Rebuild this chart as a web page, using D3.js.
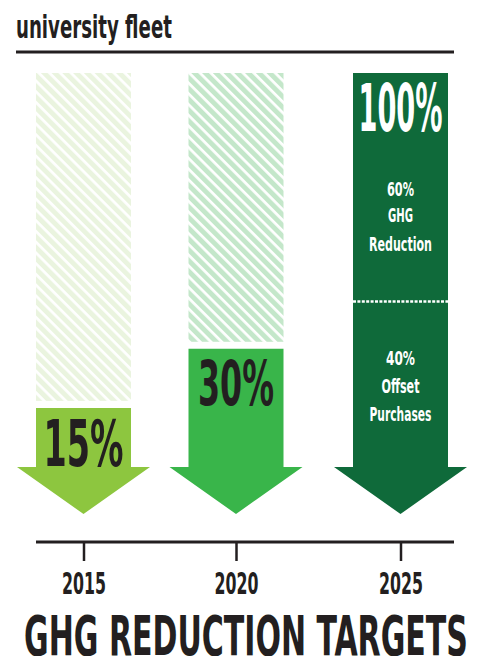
<!DOCTYPE html>
<html><head><meta charset="utf-8">
<script src="https://cdn.jsdelivr.net/npm/d3@7"></script>
<style>html,body{margin:0;padding:0;background:#fff}svg{display:block}</style>
</head><body>
<script>
// ---- data ----
const years = ["2015", "2020", "2025"];
const targets = [15, 30, 100];
const targetLabels = ["15%", "30%", "100%"];
const splitLabels = [["60%", "GHG", "Reduction"], ["40%", "Offset", "Purchases"]];
const splitLevel = 42; // where the dotted divider sits on the 0–100 scale
const solidColors = ["#8dc63f", "#39b54a", "#0f6a3a"];
const hatchColors = ["#eaf4df", "#c4e7ca", "#0f6a3a"];
const labelColors = ["#231f20", "#231f20", "#ffffff"];
const titleText = "university fleet";
const footerText = "GHG REDUCTION TARGETS";

const W = 481, H = 656;
const FONT = "'Liberation Sans Narrow', 'DejaVu Sans Condensed', sans-serif";
const ink = "#231f20";

const svg = d3.select("body").append("svg").attr("width", W).attr("height", H);

const x = d3.scaleOrdinal().domain(years).range([83.5, 236, 400.5]);
const y = d3.scaleLinear().domain([0, 100]).range([467, 73]);
const barW = 95, headHalf = 66.5, headH = 47, gap = 7;

// squeeze a text horizontally to a target width around its anchor point
function fit(sel, width, ax) {
  sel.each(function () {
    const L = this.getComputedTextLength();
    const k = width / L;
    d3.select(this).attr("transform", `translate(${ax},0) scale(${k},1) translate(${-ax},0)`);
  });
  return sel;
}

// patterns
const defs = svg.append("defs");
years.forEach((yr, i) => {
  const p = defs.append("pattern").attr("id", "hatch" + i)
    .attr("patternUnits", "userSpaceOnUse").attr("width", 7.6).attr("height", 7.6)
    .attr("patternTransform", "rotate(-45)");
  p.append("rect").attr("width", 7.6).attr("height", 7.6).attr("fill", "#fff");
  p.append("rect").attr("width", 4.9).attr("height", 7.6).attr("fill", hatchColors[i]);
});

// title
fit(svg.append("text").attr("x", 16).attr("y", 38).attr("font-family", FONT).attr("font-weight", "bold")
  .attr("font-size", 32).attr("fill", ink).text(titleText), 156, 16);
svg.append("line").attr("x1", 16).attr("x2", 454).attr("y1", 52).attr("y2", 52)
  .attr("stroke", ink).attr("stroke-width", 3);

// bars
const g = svg.append("g");
years.forEach((yr, i) => {
  const cx = x(yr), v = targets[i];
  const top = y(v);
  if (v < 100) {
    g.append("rect").attr("x", cx - barW / 2).attr("y", y(100)).attr("width", barW)
      .attr("height", top - gap - y(100)).attr("fill", `url(#hatch${i})`);
  }
  const path = d3.path();
  path.moveTo(cx - barW / 2, top);
  path.lineTo(cx + barW / 2, top);
  path.lineTo(cx + barW / 2, y(0));
  path.lineTo(cx + headHalf, y(0));
  path.lineTo(cx, y(0) + headH);
  path.lineTo(cx - headHalf, y(0));
  path.lineTo(cx - barW / 2, y(0));
  path.closePath();
  g.append("path").attr("d", path.toString()).attr("fill", solidColors[i]);
});

// big labels
const bigLabel = [
  {size: 64, base: 466, w: 80},
  {size: 63, base: 405, w: 76},
  {size: 66, base: 131, w: 84}
];
years.forEach((yr, i) => {
  fit(svg.append("text").attr("x", x(yr)).attr("y", bigLabel[i].base).attr("text-anchor", "middle")
    .attr("font-family", FONT).attr("font-weight", "bold").attr("font-size", bigLabel[i].size)
    .attr("fill", labelColors[i]).text(targetLabels[i]), bigLabel[i].w, x(yr));
});

// 2025 split
const cx25 = x("2025");
const splitY = y(splitLevel);
svg.append("line").attr("x1", cx25 - barW / 2).attr("x2", cx25 + barW / 2)
  .attr("y1", splitY).attr("y2", splitY).attr("stroke", "#fff").attr("stroke-width", 2.5)
  .attr("stroke-dasharray", "3,1.4");
const smallBases = [[196, 222, 251], [365, 393, 421]];
const smallW = [[27, 25, 63], [29, 38, 62]];
splitLabels.forEach((lines, k) => {
  lines.forEach((t, j) => {
    fit(svg.append("text").attr("x", cx25).attr("y", smallBases[k][j]).attr("text-anchor", "middle")
      .attr("font-family", FONT).attr("font-weight", "bold").attr("font-size", 19)
      .attr("fill", "#fff").text(t), smallW[k][j], cx25);
  });
});

// axis
const axisY = 542;
svg.append("line").attr("x1", 36).attr("x2", 454).attr("y1", axisY).attr("y2", axisY)
  .attr("stroke", ink).attr("stroke-width", 3);
const ax = svg.append("g").attr("transform", `translate(0,${axisY})`)
  .call(d3.axisBottom(x).tickSize(19).tickSizeOuter(0).tickPadding(14));
ax.select(".domain").remove();
ax.selectAll(".tick line").attr("stroke", ink).attr("stroke-width", 2.5);
ax.selectAll(".tick text").attr("font-family", FONT).attr("font-weight", "bold").attr("font-size", 31)
  .attr("fill", ink).attr("dy", null).attr("y", 52);
ax.selectAll(".tick text").each(function () { fit(d3.select(this), 44, 0); });

// footer
fit(svg.append("text").attr("x", 246).attr("y", 655.5).attr("text-anchor", "middle")
  .attr("font-family", FONT).attr("font-weight", "bold")
  .attr("font-size", 56).attr("fill", ink).text(footerText), 444, 246);
</script>
</body></html>
